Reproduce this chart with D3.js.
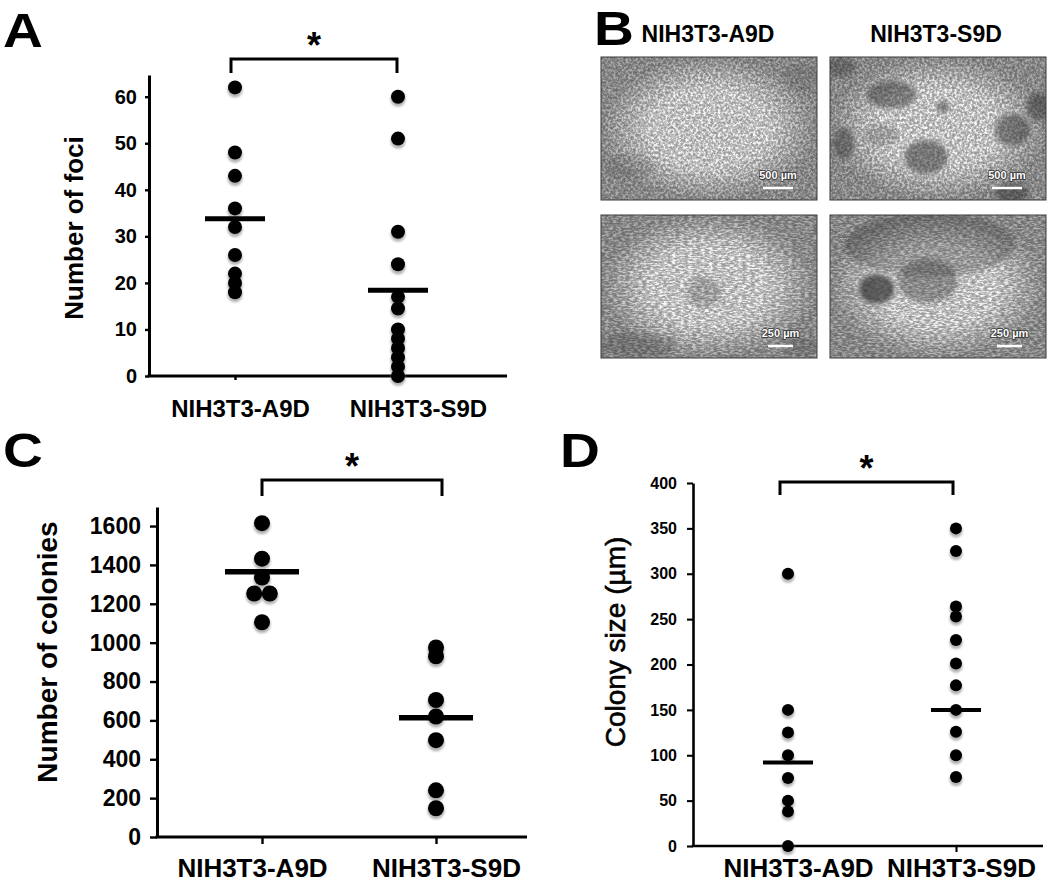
<!DOCTYPE html>
<html>
<head>
<meta charset="utf-8">
<script src="https://cdn.jsdelivr.net/npm/d3@7"></script>
<style>
  body { margin: 0; background: #fff; }
  svg { display: block; font-family: "Liberation Sans", Arial, Helvetica, sans-serif; }
</style>
</head>
<body>
<svg id="fig" width="1052" height="883"></svg>
<script>
// ---- data ----
const categories = ["NIH3T3-A9D", "NIH3T3-S9D"];

// A: number of foci
const fociA9D = [62, 48, 43, 36, 32, 26, 22, 20, 18];
const fociS9D = [60, 51, 31, 24, 17, 14.5, 10, 8, 6, 4, 2, 0];
const fociMean = [33.8, 18.4];
const fociTicks = [0, 10, 20, 30, 40, 50, 60];

// C: number of colonies
const colA9D = [1615, 1432, 1335, 1253, 1253, 1105];
const colS9D = [975, 930, 705, 620, 498, 240, 148];
const colMean = [1365, 613];
const colTicks = [0, 200, 400, 600, 800, 1000, 1200, 1400, 1600];

// D: colony size (um)
const sizeA9D = [300, 150, 125, 100, 75, 50, 38, 0];
const sizeS9D = [350, 325, 264, 253, 227, 201, 177, 150, 126, 100, 76];
const sizeMean = [92, 150];
const sizeTicks = [0, 50, 100, 150, 200, 250, 300, 350, 400];

// B: micrograph scale bar labels
const scaleLabels = ["500 µm", "500 µm", "250 µm", "250 µm"];

const svg = d3.select("#fig");
svg.append("rect").attr("width", 1052).attr("height", 883).attr("fill", "#fff");
const defs = svg.append("defs");

defs.append("filter").attr("id", "soft")
  .attr("x", "-50%").attr("y", "-50%").attr("width", "200%").attr("height", "200%")
  .append("feGaussianBlur").attr("stdDeviation", 1.3);

// ---- dot plot panel ----
function panel(cfg) {
  const g = svg.append("g");
  const y = d3.scaleLinear().domain([0, cfg.yTopVal]).range([cfg.yBase, cfg.yTop]);
  const x = d3.scalePoint().domain(categories).range(cfg.catX);

  // y axis
  const ya = g.append("g")
    .attr("transform", `translate(${cfg.axisX},0)`)
    .call(d3.axisLeft(y).tickValues(cfg.ticks).tickFormat(d3.format("d"))
      .tickSize(cfg.tickLen).tickSizeOuter(0).tickPadding(cfg.tickPad));
  ya.select(".domain").attr("stroke", "#000").attr("stroke-width", cfg.axisW);
  ya.selectAll(".tick line").attr("stroke", "#000").attr("stroke-width", cfg.axisW * 0.8);
  ya.selectAll(".tick text")
    .attr("font-size", cfg.tickFont).attr("font-weight", "bold").attr("fill", "#000")
    .attr("font-family", "'Liberation Sans', Arial, sans-serif");

  // x axis
  g.append("line")
    .attr("x1", cfg.axisX - cfg.axisW / 2).attr("x2", cfg.xEnd)
    .attr("y1", cfg.yBase).attr("y2", cfg.yBase)
    .attr("stroke", "#000").attr("stroke-width", cfg.axisW);
  const xa = g.append("g")
    .attr("transform", `translate(0,${cfg.yBase})`)
    .call(d3.axisBottom(x).tickSize(cfg.tickLen).tickSizeOuter(0));
  xa.select(".domain").remove();
  xa.selectAll(".tick line").attr("stroke", "#000").attr("stroke-width", cfg.axisW * 0.8);
  xa.selectAll(".tick text")
    .attr("font-size", cfg.catFont).attr("font-weight", "bold").attr("fill", "#000")
    .attr("font-family", "'Liberation Sans', Arial, sans-serif")
    .attr("dy", 0)
    .attr("x", (d, i) => cfg.catDx[i])
    .attr("y", cfg.catBase - cfg.yBase);

  // y title
  g.append("text")
    .attr("transform", `translate(${cfg.titleX},${cfg.titleY}) rotate(-90)`)
    .attr("text-anchor", "middle")
    .attr("font-size", cfg.titleFont)
    .attr("font-weight", cfg.titleWeight)
    .attr("stroke", cfg.titleWeight === "normal" ? "#000" : "none")
    .attr("stroke-width", 0.6)
    .text(cfg.title);

  // dots, duplicates side by side
  cfg.series.forEach((vals, ci) => {
    const counts = d3.rollup(vals, v => v.length, d => d);
    const seen = new Map();
    const pts = vals.map(v => {
      const n = counts.get(v), k = seen.get(v) || 0;
      seen.set(v, k + 1);
      return { v, off: (k - (n - 1) / 2) * cfg.r * 1.95 };
    });
    const cx = x(categories[ci]);
    g.append("g").selectAll("circle").data(pts).join("circle")
      .attr("cx", d => cx + d.off).attr("cy", d => y(d.v) + 2.5)
      .attr("r", cfg.r + 0.6).attr("fill", "#8c8c8c").attr("opacity", 0.65)
      .attr("filter", "url(#soft)");
    g.append("g").selectAll("circle").data(pts).join("circle")
      .attr("cx", d => cx + d.off).attr("cy", d => y(d.v))
      .attr("r", cfg.r).attr("fill", "#000");
  });

  // mean bars
  g.selectAll(".mean").data(cfg.means).join("line")
    .attr("x1", (d, i) => x(categories[i]) - cfg.meanW / 2)
    .attr("x2", (d, i) => x(categories[i]) + cfg.meanW / 2)
    .attr("y1", d => y(d)).attr("y2", d => y(d))
    .attr("stroke", "#000").attr("stroke-width", cfg.meanStroke);

  // significance bracket
  const bx = [x(categories[0]) + cfg.brDx[0], x(categories[1]) + cfg.brDx[1]];
  g.append("path")
    .attr("d", `M${bx[0]},${cfg.brBottom}V${cfg.brTop}H${bx[1]}V${cfg.brBottom}`)
    .attr("fill", "none").attr("stroke", "#000").attr("stroke-width", 3);
  g.append("text")
    .attr("x", (bx[0] + bx[1]) / 2).attr("y", cfg.brTop - 1)
    .attr("text-anchor", "middle").attr("font-size", 36).attr("font-weight", "bold")
    .text("*");

  panelLetter(cfg.letter, cfg.letterX, cfg.letterY);
}

function panelLetter(t, x, y) {
  svg.append("text")
    .attr("transform", `translate(${x},${y}) scale(1.15,1)`)
    .attr("font-size", 48).attr("font-weight", "bold")
    .text(t);
}

panel({
  letter: "A", letterX: 3, letterY: 47,
  axisX: 149, xEnd: 507, yBase: 376, yTop: 75, yTopVal: 64.66,
  catX: [235, 398], catDx: [5, 20], catBase: 417, catFont: 24,
  ticks: fociTicks, tickLen: 4, tickPad: 8, tickFont: 20, axisW: 3,
  title: "Number of foci", titleX: 83, titleY: 228, titleFont: 26, titleWeight: "bold",
  series: [fociA9D, fociS9D], means: fociMean, r: 7, meanW: 60, meanStroke: 5,
  brTop: 59, brBottom: 73, brDx: [-4, -1]
});

panel({
  letter: "C", letterX: 3, letterY: 467,
  axisX: 157, xEnd: 527, yBase: 837, yTop: 507, yTopVal: 1698,
  catX: [262, 436], catDx: [-10, 10], catBase: 877, catFont: 26,
  ticks: colTicks, tickLen: 7, tickPad: 9, tickFont: 23, axisW: 3,
  title: "Number of colonies", titleX: 57, titleY: 652, titleFont: 28, titleWeight: "bold",
  series: [colA9D, colS9D], means: colMean, r: 8, meanW: 74, meanStroke: 5.5,
  brTop: 480, brBottom: 496, brDx: [0, 6]
});

panel({
  letter: "D", letterX: 560, letterY: 467,
  axisX: 693, xEnd: 1043, yBase: 846, yTop: 483, yTopVal: 400,
  catX: [788, 956], catDx: [10, 5], catBase: 877, catFont: 26,
  ticks: sizeTicks, tickLen: 6, tickPad: 10, tickFont: 16, axisW: 2.6,
  title: "Colony size (µm)", titleX: 625, titleY: 642, titleFont: 28, titleWeight: "normal",
  series: [sizeA9D, sizeS9D], means: sizeMean, r: 6, meanW: 50, meanStroke: 4,
  brTop: 482, brBottom: 495, brDx: [-8, -3]
});

// ---- panel B: micrographs ----
panelLetter("B", 594, 45);

const imgX = [601, 830], imgY = [57, 215], imgW = 216, imgH = 143;
const colX = d3.scalePoint().domain(categories).range([708, 936]);
svg.selectAll(".btitle").data(categories).join("text")
  .attr("x", d => colX(d)).attr("y", 42)
  .attr("text-anchor", "middle").attr("font-size", 23).attr("font-weight", "bold")
  .text(d => d);

// texture filters (one per frame): mid grey ground with light cell specks
const freq = ["0.4", "0.4", "0.24 0.6", "0.24 0.6"];
freq.forEach((f, i) => {
  const flt = defs.append("filter").attr("id", "grain" + i)
    .attr("x", 0).attr("y", 0).attr("width", "100%").attr("height", "100%");
  flt.append("feTurbulence").attr("type", "fractalNoise")
    .attr("baseFrequency", f).attr("numOctaves", 3).attr("seed", 7 + i * 5).attr("result", "n");
  flt.append("feColorMatrix").attr("type", "matrix")
    .attr("values", "1 0 0 0 0  1 0 0 0 0  1 0 0 0 0  0 0 0 0 1").attr("result", "g");
  const ct = flt.append("feComponentTransfer").attr("result", "c");
  ["feFuncR", "feFuncG", "feFuncB"].forEach(fn =>
    ct.append(fn).attr("type", "table").attr("tableValues", "0.2 0.28 0.36 0.5 0.86 1 1"));
  flt.append("feComposite").attr("in", "c").attr("in2", "SourceGraphic").attr("operator", "in");
});
defs.append("filter").attr("id", "blobBlur")
  .attr("x", "-50%").attr("y", "-50%").attr("width", "200%").attr("height", "200%")
  .append("feGaussianBlur").attr("stdDeviation", 2);
const vg = defs.append("radialGradient").attr("id", "vign");
vg.append("stop").attr("offset", "55%").attr("stop-color", "#000").attr("stop-opacity", 0);
vg.append("stop").attr("offset", "100%").attr("stop-color", "#000").attr("stop-opacity", 0.3);

// dark foci / colonies in the frames: [frame, cx, cy, rx, ry, opacity] relative to frame
const blobs = [
  [1, 62, 38, 26, 15, 0.5], [1, 96, 100, 23, 18, 0.55], [1, 113, 50, 7, 7, 0.55],
  [1, 182, 73, 19, 17, 0.5], [1, 208, 50, 13, 15, 0.45], [1, 182, 136, 18, 11, 0.45],
  [1, 14, 86, 12, 17, 0.42], [1, 10, 10, 16, 10, 0.35], [1, 52, 78, 16, 11, 0.25],
  [0, 30, 110, 25, 12, 0.12], [0, 200, 20, 18, 14, 0.12],
  [2, 103, 77, 17, 15, 0.25], [2, 35, 130, 40, 12, 0.2], [2, 200, 132, 18, 10, 0.18],
  [3, 100, 30, 85, 32, 0.3], [3, 98, 66, 30, 22, 0.4], [3, 47, 74, 19, 16, 0.75]
];

const frames = [];
imgY.forEach(yy => imgX.forEach(xx => frames.push([xx, yy])));
frames.forEach(([fx, fy], i) => {
  const fg = svg.append("g").attr("transform", `translate(${fx},${fy})`);
  const cp = defs.append("clipPath").attr("id", "clip" + i);
  cp.append("rect").attr("width", imgW).attr("height", imgH);
  fg.append("rect").attr("width", imgW).attr("height", imgH).attr("fill", "#888");
  fg.append("rect").attr("width", imgW).attr("height", imgH).attr("fill", "#fff")
    .attr("filter", `url(#grain${i})`);
  const bg = fg.append("g").attr("clip-path", `url(#clip${i})`);
  bg.selectAll("ellipse").data(blobs.filter(b => b[0] === i)).join("ellipse")
    .attr("cx", d => d[1]).attr("cy", d => d[2]).attr("rx", d => d[3]).attr("ry", d => d[4])
    .attr("fill", "#3a3a3a").attr("opacity", d => d[5])
    .attr("stroke", "#e8e8e8").attr("stroke-width", d => d[5] > 0.4 ? 2 : 0).attr("stroke-opacity", 0.5)
    .attr("filter", "url(#blobBlur)");
  fg.append("rect").attr("width", imgW).attr("height", imgH).attr("fill", "url(#vign)");
  fg.append("rect").attr("width", imgW).attr("height", imgH)
    .attr("fill", "none").attr("stroke", "#3a3a3a").attr("stroke-width", 1);

  // scale bar
  const barW = i < 2 ? 30 : 25;
  const bx = imgW - 24 - barW / 2;
  fg.append("text").attr("x", bx).attr("y", 122)
    .attr("text-anchor", "middle").attr("font-size", 11).attr("font-weight", "bold")
    .attr("fill", "#fff").attr("stroke", "#333").attr("stroke-width", 1.6)
    .attr("paint-order", "stroke")
    .text(scaleLabels[i]);
  fg.append("line").attr("x1", bx - barW / 2).attr("x2", bx + barW / 2)
    .attr("y1", 131).attr("y2", 131)
    .attr("stroke", "#fff").attr("stroke-width", 2.5);
});
</script>
</body>
</html>
